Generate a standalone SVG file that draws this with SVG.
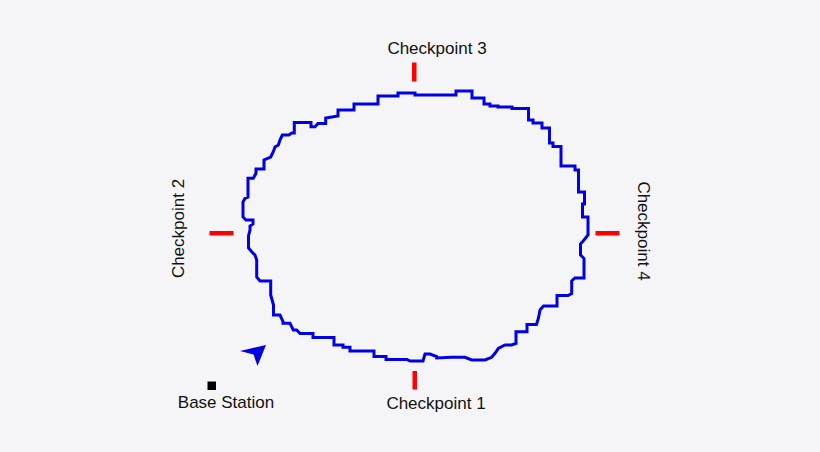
<svg xmlns="http://www.w3.org/2000/svg" width="820" height="452" viewBox="0 0 820 452">
<style>
.lbl{font-family:"Liberation Sans",Arial,sans-serif;font-size:17px;fill:#111}
.tick{fill:#f00}
.path{fill:none;stroke:#0000e6;stroke-width:3;stroke-linejoin:miter}
</style>
<rect width="820" height="452" fill="#f5f5f7"/>
<g id="trajectory">
<path class="path" d="M354,104 H378 V96 H398 V93 H415 V95 H456 V91 H472 V98 H484 V104 H490 V106 H498 V107 H512 V108.5 H528.5 V120 H533 V123 H542 V128 H549.5 V143 H553 V146.5 H561 V166 H575 V170 H578.5 V192 H584.5 V204 H582.5 V217 H588 V235 L584,240 L580.5,244 V255 L584,258.5 V278 H575 L571.7,281 V293.5 L568,295.5 H557 V306 H543.5 L540,310 L538.5,318 L536.5,324.5 H527 V331.7 H516 V343.5 L511.7,345 H505 L498.3,348.3 L495,353.3 L491.7,357.3 L485,360 H471.7 L465,357.3 H451.7 L436.7,358 V356.5 L430,354 H425 L423,361 H410 L407,359.5 H386 V356.5 H374 V351 H350 V347.3 H343 V345 H334 V337.5 H313 V333.5 H300 L296.7,330 H293.3 L290,323.3 H283 V321.5 L280,315 H273.5 V305 L270.7,295 V281 H260 L256.7,277 V260 L255,255 L251.7,251.7 L248.5,248 V236 L250,230 V226 L253,224 V220 H246 L243,217 V202 L245,198.5 L248,197 V178.3 H253.3 L256,173.3 V169 H264 V160 L270.7,157 L273.3,151.7 L275,147 L278.3,145 L280,140 L282.3,135 H289 L291.7,133 H294.3 V122.5 H311 V126.7 H315 L318,123.5 H325.7 V118 L338,116 V110 H354 Z"/>
</g>
<g id="checkpoint1">
<rect class="tick" x="412.5" y="371" width="4.5" height="18.5"/>
<text class="lbl" x="436" y="408.5" text-anchor="middle">Checkpoint 1</text>
</g>
<g id="checkpoint2">
<rect class="tick" x="209.5" y="231" width="24" height="4.5"/>
<text class="lbl" transform="translate(184,228.5) rotate(-90)" text-anchor="middle">Checkpoint 2</text>
</g>
<g id="checkpoint3">
<rect class="tick" x="412" y="62.5" width="4.5" height="19"/>
<text class="lbl" x="437" y="54" text-anchor="middle">Checkpoint 3</text>
</g>
<g id="checkpoint4">
<rect class="tick" x="595.5" y="231" width="24" height="4.5"/>
<text class="lbl" transform="translate(637.5,231) rotate(90)" text-anchor="middle">Checkpoint 4</text>
</g>
<g id="robot">
<polygon points="266,345 257.5,366 253.5,354.5 240,351" fill="#0000e6"/>
</g>
<g id="base-station">
<rect x="207.5" y="381.5" width="8.5" height="8.5" fill="#000"/>
<text class="lbl" x="226" y="408" text-anchor="middle">Base Station</text>
</g>
</svg>
